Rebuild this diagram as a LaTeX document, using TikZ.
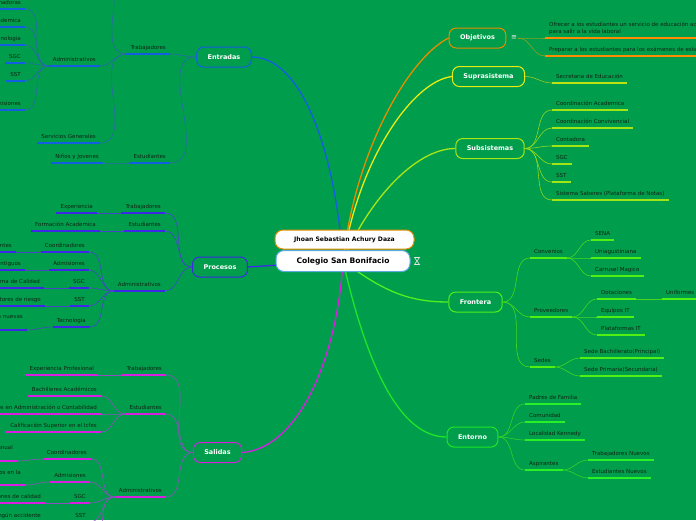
\documentclass[tikz,border=0pt]{standalone}
\usepackage{fontspec}
\setmainfont{DejaVu Sans}
\pgfdeclarelayer{background}
\pgfdeclarelayer{edges}
\pgfsetlayers{background,edges,main}
\definecolor{bgc}{RGB}{0,158,76}
\definecolor{leaftxt}{RGB}{15,35,18}
\definecolor{entc}{RGB}{20,95,225}   \definecolor{entk}{RGB}{40,105,170}
\definecolor{proc}{RGB}{60,40,230}   \definecolor{prok}{RGB}{70,70,200}
\definecolor{salc}{RGB}{215,30,225}  \definecolor{salk}{RGB}{140,80,190}
\definecolor{objc}{RGB}{230,140,0}   \definecolor{objl}{RGB}{255,140,0}  \definecolor{objk}{RGB}{140,160,30}
\definecolor{supc}{RGB}{235,235,20}  \definecolor{supl}{RGB}{190,225,20} \definecolor{supk}{RGB}{160,200,30}
\definecolor{subc}{RGB}{170,230,20}  \definecolor{subl}{RGB}{160,230,20} \definecolor{subk}{RGB}{140,215,30}
\definecolor{froc}{RGB}{80,240,30}   \definecolor{frol}{RGB}{80,240,20}  \definecolor{frok}{RGB}{70,215,30}
\definecolor{torc}{RGB}{30,230,40}   \definecolor{torl}{RGB}{40,240,40}  \definecolor{tork}{RGB}{50,210,40}
\definecolor{cenb}{RGB}{90,170,225}
\newcommand\leaffont{\fontsize{5.5}{7}\selectfont}
\tikzset{
  lbase/.style={font=\leaffont, text=leaftxt, inner xsep=4pt, inner ysep=2.8pt,
    append after command={\pgfextra{\draw[line width=1.7pt, draw=#1] (\tikzlastnode.south west) -- (\tikzlastnode.south east);}}},
  leafR/.style={lbase=#1, anchor=south west, text height=4pt, text depth=1.4pt},
  leafL/.style={lbase=#1, anchor=south east, text height=4pt, text depth=1.4pt},
  leafR2/.style={lbase=#1, anchor=south west, align=left},
  leafL2/.style={lbase=#1, anchor=south east, align=left},
  branch/.style={draw=#1, line width=1pt, rounded corners=7pt, fill=bgc, text=white,
    font=\bfseries\fontsize{6.5}{8}\selectfont, minimum height=20pt, inner xsep=11pt},
  central/.style={draw=cenb, line width=1pt, rounded corners=8pt, fill=white, text=black,
    font=\bfseries\fontsize{7.6}{9}\selectfont, minimum height=21pt, minimum width=134pt},
  author/.style={draw=objc, line width=1pt, rounded corners=8pt, fill=white, text=black,
    font=\bfseries\fontsize{6.1}{8}\selectfont, minimum height=19pt, minimum width=139pt},
  mainedge/.style={draw=#1, line width=1.3pt},
  subedge/.style={draw=#1, line width=0.6pt},
}
\begin{document}
\begin{tikzpicture}[x=1pt,y=-1pt]
\useasboundingbox (0,0) rectangle (696,520);
\begin{pgfonlayer}{background}
\fill[bgc] (0,0) rectangle (696,520);
\end{pgfonlayer}
\clip (0,0) rectangle (696,520);

% central
\node[central] (cen) at (343,261) {Colegio San Bonifacio};
\node[author] (auth) at (344.5,239.5) {Jhoan Sebastian Achury Daza};
\draw[white!80!gray, line width=0.6pt] (414.5,257.5) -- (419.5,257.5) -- (414.5,264.5) -- (419.5,264.5) -- cycle;

% main branches
\node[branch=entc] (ent) at (224,57) {Entradas};
\node[branch=proc] (pro) at (220,267) {Procesos};
\node[branch=salc] (sal) at (217.5,452.5) {Salidas};
\node[branch=objc] (obj) at (477.5,38) {Objetivos};
\node[branch=supc] (sup) at (488.5,76.5) {Suprasistema};
\node[branch=subc] (sub) at (490,148.5) {Subsistemas};
\node[branch=froc] (fro) at (475.5,302) {Frontera};
\node[branch=torc] (tor) at (472.5,437) {Entorno};
\node[text=white!90!gray, font=\fontsize{7}{7}\selectfont, inner sep=1pt] (oicon) at (514,38) {≡};

% Entradas
\node[leafL=entc] (eTrab) at (170,54) {Trabajadores};
\node[leafL=entc] (eEst) at (170,163) {Estudiantes};
\node[leafL=entc] (eAdm) at (100,66) {Administrativos};
\node[leafL=entc] (eSG) at (100,143) {Servicios Generales};
\node[leafL=entc] (eNJ) at (103,163) {Niños y Jovenes};
\coordinate (eTop) at (100,-30);
\node[leafL=entc] (eA1) at (25,9) {Coordinadoras};
\node[leafL=entc] (eA2) at (25,27) {Coordinación Academica};
\node[leafL=entc] (eA3) at (25,45) {Tecnologia};
\node[leafL=entc] (eA4) at (25,63) {SGC};
\node[leafL=entc] (eA5) at (25,81) {SST};
\node[leafL=entc] (eA6) at (25,110) {Admisiones};

% Procesos
\node[leafL=proc] (pTrab) at (165,213) {Trabajadores};
\node[leafL=proc] (pEst) at (165,231) {Estudiantes};
\node[leafL=proc] (pAdm) at (165,291) {Administrativos};
\node[leafL=proc] (pExp) at (97,213) {Experiencia};
\node[leafL=proc] (pFA) at (100,231) {Formación Academica};
\node[leafL=proc] (pA1) at (89,252) {Coordinadores};
\node[leafL=proc] (pA2) at (89,270) {Admisiones};
\node[leafL=proc] (pA3) at (89,288) {SGC};
\node[leafL=proc] (pA4) at (89,306) {SST};
\node[leafL=proc] (pA5) at (90,327) {Tecnologia};
\node[leafL=proc] (pA1c) at (16,252) {Seguimiento a docentes};
\node[leafL=proc] (pA2c) at (25,270) {Matrículas de estudiantes antiguos};
\node[leafL=proc] (pA3c) at (44,288) {Gestión del Sistema de Calidad};
\node[leafL=proc] (pA4c) at (45,306) {Identificación de factores de riesgo};
\node[leafL2=proc] (pA5c) at (27,330) {Implementación de herramientas nuevas\\en el colegio};

% Salidas
\node[leafL=salc] (sTrab) at (166,375) {Trabajadores};
\node[leafL=salc] (sEst) at (166,414) {Estudiantes};
\node[leafL=salc] (sAdm) at (166,497) {Administrativos};
\node[leafL=salc] (sExp) at (98,375) {Experiencia Profesional};
\node[leafL=salc] (sE1) at (101,396) {Bachilleres Académicos};
\node[leafL=salc] (sE2) at (101,414) {Bachilleres Técnicos en Administración o Contabilidad};
\node[leafL=salc] (sE3) at (101,432) {Calificación Superior en el Icfes};
\node[leafL=salc] (sA1) at (91,459) {Coordinadores};
\node[leafL=salc] (sA2) at (90,482) {Admisiones};
\node[leafL=salc] (sA3) at (90,503) {SGC};
\node[leafL=salc] (sA4) at (90,522) {SST};
\coordinate (sA5) at (90,545);
\node[leafL2=salc] (sA1c) at (17,461) {Cumplimiento del plan institucional anual\\y metas};
\node[leafL2=salc] (sA2c) at (25,485) {Aumento de estudiantes matriculados en la\\institución};
\node[leafL=salc] (sA3c) at (45,503) {Auditorías y certificaciones de calidad};
\node[leafL=salc] (sA4c) at (45,522) {Año escolar sin ningún accidente};

% Objetivos
\node[leafR2=objl] (o1) at (545,38) {Ofrecer a los estudiantes un servicio de educación academica\\para salir a la vida laboral};
\node[leafR=objl] (o2) at (545,56) {Preparar a los estudiantes para los exámenes de estado};

% Suprasistema
\node[leafR=supl] (u1) at (552,83) {Secretaria de Educación};

% Subsistemas
\node[leafR=subl] (b1) at (552,110) {Coordinación Academica};
\node[leafR=subl] (b2) at (552,128) {Coordinación Convivencial};
\node[leafR=subl] (b3) at (552,146) {Contadora};
\node[leafR=subl] (b4) at (552,164) {SGC};
\node[leafR=subl] (b5) at (552,182) {SST};
\node[leafR=subl] (b6) at (552,200) {Sistema Saberes (Plataforma de Notas)};

% Frontera
\node[leafR=frol] (fConv) at (530,258) {Convenios};
\node[leafR=frol] (fProv) at (530,317) {Proveedores};
\node[leafR=frol] (fSed) at (530,367) {Sedes};
\node[leafR=frol] (fC1) at (591,240) {SENA};
\node[leafR=frol] (fC2) at (591,258) {Uniagustiniana};
\node[leafR=frol] (fC3) at (591,276) {Carrusel Magico};
\node[leafR=frol] (fP1) at (597,299) {Dotaciones};
\node[leafR=frol] (fP2) at (597,317) {Equipos IT};
\node[leafR=frol] (fP3) at (597,335) {Plataformas IT};
\node[leafR=frol] (fP1a) at (662,299) {Uniformes};
\node[leafR=frol] (fS1) at (580,358) {Sede Bachillerato(Principal)};
\node[leafR=frol] (fS2) at (580,376) {Sede Primaria(Secundaria)};

% Entorno
\node[leafR=torl] (t1) at (525,404) {Padres de Familia};
\node[leafR=torl] (t2) at (525,422) {Comunidad};
\node[leafR=torl] (t3) at (525,440) {Localidad Kennedy};
\node[leafR=torl] (t4) at (525,470) {Aspirantes};
\node[leafR=torl] (t4a) at (588,460) {Trabajadores Nuevos};
\node[leafR=torl] (t4b) at (588,478) {Estudiantes Nuevos};

\begin{pgfonlayer}{edges}
% main connectors
\draw[mainedge=entc] (ent.east) .. controls +(50,0) and +(-8,-110) .. (cen.center);
\draw[mainedge=proc] (pro.east) -- (cen.center);
\draw[mainedge=salc] (sal.east) .. controls +(55,-4) and +(-6,100) .. (cen.center);
\draw[mainedge=objc] (cen.center) .. controls +(12,-110) and +(-40,20) .. (obj.west);
\draw[mainedge=supc] (cen.center) .. controls +(15,-100) and +(-40,5) .. (sup.west);
\draw[mainedge=subc] (cen.center) .. controls +(25,-60) and +(-40,0) .. (sub.west);
\draw[mainedge=froc] (cen.center) .. controls +(40,30) and +(-40,0) .. (fro.west);
\draw[mainedge=torc] (cen.center) .. controls +(25,110) and +(-45,0) .. (tor.west);

% Entradas
\draw[subedge=entk] (ent.west) to[out=180,in=0] (eTrab.south east);
\draw[subedge=entk] (ent.west) to[out=180,in=0] (eEst.south east);
\draw[subedge=entk] (eTrab.south west) to[out=180,in=0] (eAdm.south east);
\draw[subedge=entk] (eTrab.south west) to[out=180,in=0] (eSG.south east);
\draw[subedge=entk] (eTrab.south west) to[out=180,in=0] (eTop);
\draw[subedge=entk] (eEst.south west) to[out=180,in=0] (eNJ.south east);
\foreach \c in {eA1,eA2,eA3,eA4,eA5,eA6}
  \draw[subedge=entk] (eAdm.south west) to[out=180,in=0] (\c.south east);

% Procesos
\draw[subedge=prok] (pro.west) to[out=180,in=0] (pTrab.south east);
\draw[subedge=prok] (pro.west) to[out=180,in=0] (pEst.south east);
\draw[subedge=prok] (pro.west) to[out=180,in=0] (pAdm.south east);
\draw[subedge=prok] (pTrab.south west) -- (pExp.south east);
\draw[subedge=prok] (pEst.south west) -- (pFA.south east);
\foreach \c in {pA1,pA2,pA3,pA4,pA5}
  \draw[subedge=prok] (pAdm.south west) to[out=180,in=0] (\c.south east);
\draw[subedge=prok] (pA1.south west) -- (pA1c.south east);
\draw[subedge=prok] (pA2.south west) -- (pA2c.south east);
\draw[subedge=prok] (pA3.south west) -- (pA3c.south east);
\draw[subedge=prok] (pA4.south west) -- (pA4c.south east);
\draw[subedge=prok] (pA5.south west) to[out=180,in=0] (pA5c.south east);

% Salidas
\draw[subedge=salk] (sal.west) to[out=180,in=0] (sTrab.south east);
\draw[subedge=salk] (sal.west) to[out=180,in=0] (sEst.south east);
\draw[subedge=salk] (sal.west) to[out=180,in=0] (sAdm.south east);
\draw[subedge=salk] (sTrab.south west) -- (sExp.south east);
\foreach \c in {sE1,sE2,sE3}
  \draw[subedge=salk] (sEst.south west) to[out=180,in=0] (\c.south east);
\foreach \c in {sA1,sA2,sA3,sA4}
  \draw[subedge=salk] (sAdm.south west) to[out=180,in=0] (\c.south east);
\draw[subedge=salk] (sAdm.south west) to[out=180,in=0] (sA5);
\draw[subedge=salk] (sA1.south west) to[out=180,in=0] (sA1c.south east);
\draw[subedge=salk] (sA2.south west) to[out=180,in=0] (sA2c.south east);
\draw[subedge=salk] (sA3.south west) -- (sA3c.south east);
\draw[subedge=salk] (sA4.south west) -- (sA4c.south east);

% right side
\draw[subedge=objk] (oicon.east) to[out=0,in=180] (o1.south west);
\draw[subedge=objk] (oicon.east) to[out=0,in=180] (o2.south west);
\draw[subedge=supk] (sup.east) to[out=0,in=180] (u1.south west);
\foreach \c in {b1,b2,b3,b4,b5,b6}
  \draw[subedge=subk] (sub.east) to[out=0,in=180] (\c.south west);
\foreach \c in {fConv,fProv,fSed}
  \draw[subedge=frok] (fro.east) to[out=0,in=180] (\c.south west);
\foreach \c in {fC1,fC2,fC3}
  \draw[subedge=frok] (fConv.south east) to[out=0,in=180] (\c.south west);
\foreach \c in {fP1,fP2,fP3}
  \draw[subedge=frok] (fProv.south east) to[out=0,in=180] (\c.south west);
\draw[subedge=frok] (fP1.south east) -- (fP1a.south west);
\foreach \c in {fS1,fS2}
  \draw[subedge=frok] (fSed.south east) to[out=0,in=180] (\c.south west);
\foreach \c in {t1,t2,t3,t4}
  \draw[subedge=tork] (tor.east) to[out=0,in=180] (\c.south west);
\foreach \c in {t4a,t4b}
  \draw[subedge=tork] (t4.south east) to[out=0,in=180] (\c.south west);
\end{pgfonlayer}
\end{tikzpicture}
\end{document}
